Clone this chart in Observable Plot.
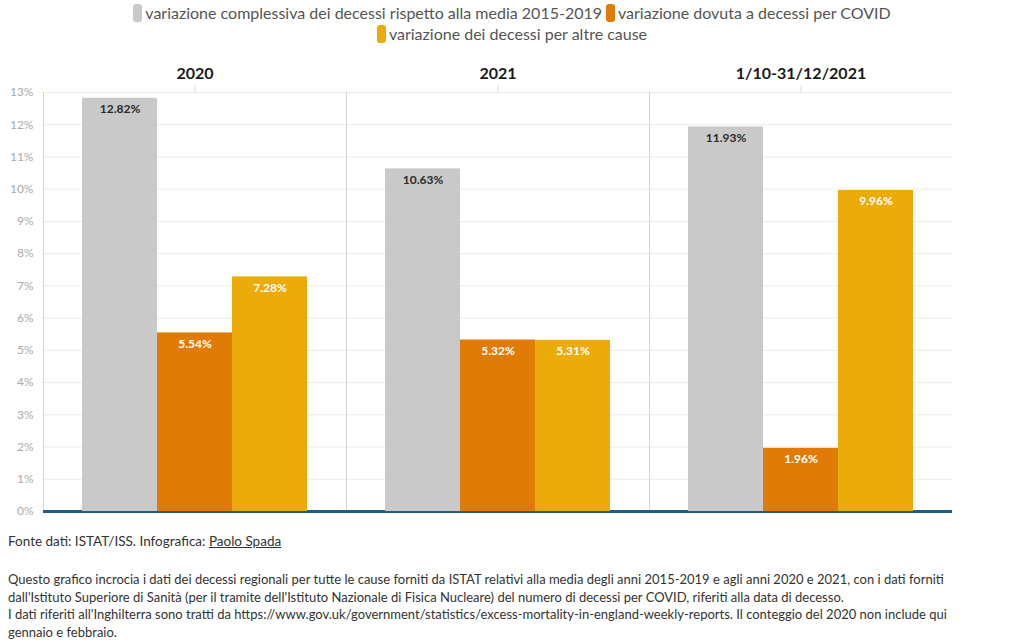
<!DOCTYPE html>
<html>
<head>
<meta charset="utf-8">
<script src="https://cdn.jsdelivr.net/npm/d3@7"></script>
<script src="https://cdn.jsdelivr.net/npm/@observablehq/plot@0.6"></script>
<style>
  body { margin: 0; background: #fff; font-family: Lato, "Open Sans", sans-serif; width: 1024px; }
  #legend { width: 800px; margin: 2px auto 0; display: flex; flex-wrap: wrap; justify-content: center; font-size: 16px; color: #555; line-height: 21px; }
  .item { display: flex; align-items: center; margin: 0 2px; white-space: nowrap; }
  .sw { width: 9px; height: 18px; border-radius: 3px; margin-right: 3px; display: inline-block; }
  #chart { height: 475px; margin-top: 6px; }
  #src { font-size: 13.5px; color: #333; margin: 8px 0 0 8px; }
  #src u { text-decoration: underline; }
  #note { font-size: 13px; color: #333; margin: 22px 0 0 8px; line-height: 17.5px; width: 985px; }
</style>
</head>
<body>
<div id="legend"></div>
<div id="chart"></div>
<div id="src">Fonte dati: ISTAT/ISS. Infografica: <u>Paolo Spada</u></div>
<div id="note">Questo grafico incrocia i dati dei decessi regionali per tutte le cause forniti da ISTAT relativi alla media degli anni 2015-2019 e agli anni 2020 e 2021, con i dati forniti dall'Istituto Superiore di Sanità (per il tramite dell'Istituto Nazionale di Fisica Nucleare) del numero di decessi per COVID, riferiti alla data di decesso.<br>I dati riferiti all'Inghilterra sono tratti da https://www.gov.uk/government/statistics/excess-mortality-in-england-weekly-reports. Il conteggio del 2020 non include qui gennaio e febbraio.</div>
<script>
const periods = ["2020", "2021", "1/10-31/12/2021"];
const series = [
  "variazione complessiva dei decessi rispetto alla media 2015-2019",
  "variazione dovuta a decessi per COVID",
  "variazione dei decessi per altre cause"
];
const totale = [12.82, 10.63, 11.93];
const covid = [5.54, 5.32, 1.96];
const altre = [7.28, 5.31, 9.96];
const yTicks = [0,1,2,3,4,5,6,7,8,9,10,11,12,13];
const colors = ["#c9c9c9", "#e07b07", "#ebab0b"];
const labelColors = ["#2a2a2a", "#ffffff", "#ffffff"];

const values = [totale, covid, altre];
const data = [];
periods.forEach((p, i) => {
  series.forEach((s, j) => data.push({period: p, series: s, value: values[j][i]}));
});

// legend
const leg = document.getElementById("legend");
series.forEach((s, j) => {
  const it = document.createElement("span");
  it.className = "item";
  it.innerHTML = `<span class="sw" style="background:${colors[j]}"></span>${s}`;
  leg.appendChild(it);
});

const chart = Plot.plot({
  width: 1024,
  height: 475,
  marginTop: 42,
  marginBottom: 14,
  marginLeft: 42,
  marginRight: 72,
  style: {fontFamily: "Lato, 'Open Sans', sans-serif", background: "white"},
  fx: {domain: periods, paddingInner: 0, paddingOuter: 0, label: null},
  x: {domain: series, paddingInner: 0, paddingOuter: 0.5, axis: null},
  y: {domain: [0, 13], ticks: yTicks, label: null},
  color: {domain: series, range: colors},
  marks: [
    Plot.gridY(yTicks, {stroke: "#ececec", strokeOpacity: 1}),
    Plot.frame({anchor: "left", stroke: "#d4d4d4"}),
    Plot.axisY(yTicks, {tickSize: 0, tickPadding: 10, fill: "#aaaaaa", fontSize: 12, tickFormat: d => d + "%", label: null}),
    Plot.axisFx({anchor: "top", tickSize: 8, tickPadding: 6, stroke: "#dddddd", fill: "#1a1a1a", fontSize: 16, fontWeight: "bold", label: null}),
    Plot.ruleY([0], {stroke: "#1f5e88", strokeWidth: 3}),
    Plot.barY(data, {fx: "period", x: "series", y: "value", fill: "series"}),
    Plot.text(data, {fx: "period", x: "series", y: "value", text: d => d.value.toFixed(2) + "%",
      dy: 11, fontWeight: "bold", fontSize: 12,
      fill: d => labelColors[series.indexOf(d.series)]})
  ]
});
document.getElementById("chart").appendChild(chart);
</script>
</body>
</html>
